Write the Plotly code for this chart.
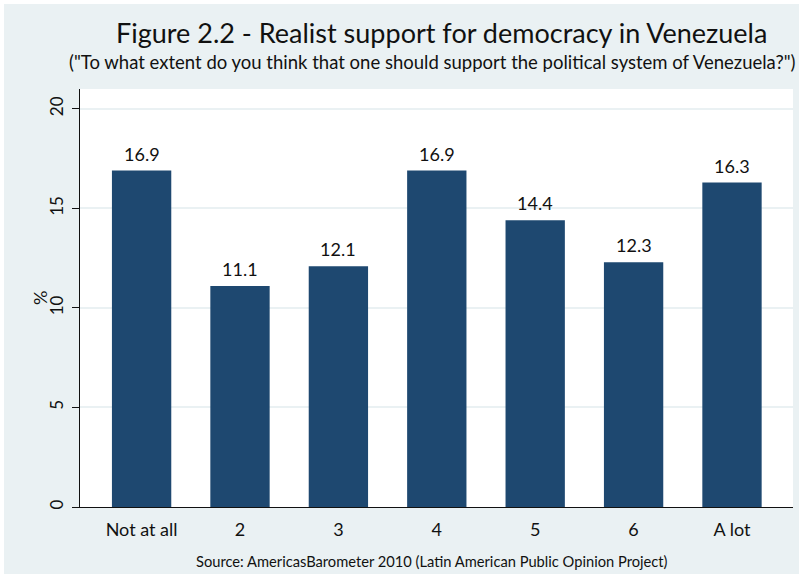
import plotly.graph_objects as go

categories = ["Not at all", "2", "3", "4", "5", "6", "A lot"]
values = [16.9, 11.1, 12.1, 16.9, 14.4, 12.3, 16.3]
y_ticks = [0, 5, 10, 15, 20]

BG = "#EAF1F3"
BAR = "#1E4870"
FONT = "Lato"

fig = go.Figure()
fig.add_trace(go.Bar(
    x=list(range(len(categories))),
    y=values,
    marker=dict(color=BAR, line=dict(width=0)),
    hoverinfo="skip",
))

for i, v in enumerate(values):
    fig.add_annotation(
        x=i, y=v, xref="x", yref="y", text=f"{v:.1f}", showarrow=False,
        yanchor="bottom", yshift=4, font=dict(family=FONT, size=18, color="#111111"),
    )

W, H = 803, 578
L, R, T, B = 80, 10, 89, 71
pw, ph = W - L - R, H - T - B

def px_x(x):
    return (x - L) / pw

def px_y(y):
    return (H - B - y) / ph

# outer light background + white plot area
fig.add_shape(type="rect", xref="paper", yref="paper", layer="below",
              x0=px_x(4), x1=px_x(W - 4), y0=px_y(H - 4), y1=px_y(4),
              fillcolor=BG, line=dict(width=0))
fig.add_shape(type="rect", xref="paper", yref="paper", layer="below",
              x0=0, x1=1, y0=0, y1=1, fillcolor="white", line=dict(width=0))

fig.add_annotation(xref="paper", yref="paper", x=px_x(441), y=px_y(33),
                   text="Figure 2.2 - Realist support for democracy in Venezuela",
                   showarrow=False, xanchor="center", yanchor="middle",
                   font=dict(family=FONT, size=27, color="#111111"))
fig.add_annotation(xref="paper", yref="paper", x=px_x(432), y=px_y(62.5),
                   text="(\"To what extent do you think that one should support the political system of Venezuela?\")",
                   showarrow=False, xanchor="center", yanchor="middle",
                   font=dict(family=FONT, size=18.5, color="#111111"))
fig.add_annotation(xref="paper", yref="paper", x=px_x(432), y=px_y(561),
                   text="Source: AmericasBarometer 2010 (Latin American Public Opinion Project)",
                   showarrow=False, xanchor="center", yanchor="middle",
                   font=dict(family=FONT, size=14.7, color="#111111"))
fig.add_annotation(xref="paper", yref="paper", x=px_x(40), y=px_y(298),
                   text="%", textangle=-90, showarrow=False,
                   xanchor="center", yanchor="middle",
                   font=dict(family=FONT, size=18, color="#111111"))

fig.update_layout(
    width=W, height=H,
    margin=dict(l=L, r=R, t=T, b=B),
    paper_bgcolor="white",
    plot_bgcolor="rgba(0,0,0,0)",
    showlegend=False,
    bargap=0.397,
    font=dict(family=FONT, color="#111111"),
    xaxis=dict(
        range=[-0.626, 6.62],
        tickmode="array", tickvals=list(range(len(categories))), ticktext=categories,
        showgrid=False, zeroline=False,
        showline=True, linecolor="#111111", linewidth=1.2,
        ticks="", ticklabelstandoff=6,
        tickfont=dict(family=FONT, size=18, color="#111111"),
        fixedrange=True,
    ),
    yaxis=dict(
        range=[0, 21],
        tickmode="array", tickvals=y_ticks, ticktext=[str(t) for t in y_ticks],
        showgrid=True, gridcolor=BG, gridwidth=1.5,
        zeroline=False,
        showline=True, linecolor="#111111", linewidth=1.2,
        ticks="outside", ticklen=7, tickcolor="#111111",
        tickangle=-90, ticklabelstandoff=2,
        tickfont=dict(family=FONT, size=17, color="#111111"),
        fixedrange=True,
    ),
)

fig.write_html("out.html", config={"displayModeBar": False},
               post_script="document.body.style.margin='0px';")
